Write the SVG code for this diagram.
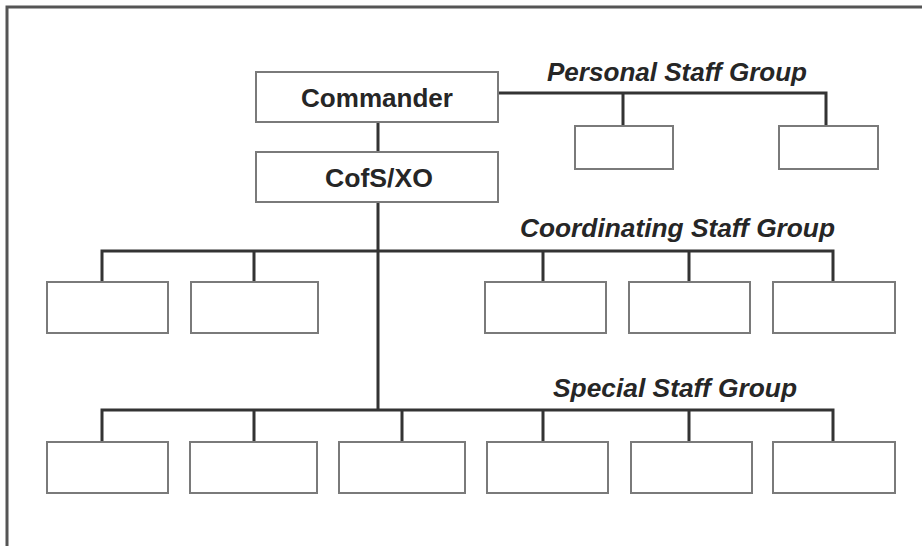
<svg xmlns="http://www.w3.org/2000/svg" width="922" height="546" viewBox="0 0 922 546">
<style>
.frame{fill:none;stroke:#555;stroke-width:3}
.box{fill:#fff;stroke:#7a7a7a;stroke-width:2}
.conn{fill:none;stroke:#333;stroke-width:3}
.lbl{font-family:"Liberation Sans",Arial,sans-serif;font-weight:bold;font-size:26px;fill:#262626;text-anchor:middle}
.grp{font-family:"Liberation Sans",Arial,sans-serif;font-weight:bold;font-style:italic;font-size:25px;fill:#262626}
</style>
<rect width="922" height="546" fill="#fff"/>
<rect class="frame" x="7" y="7" width="940" height="570"/>
<g id="connectors">
<path class="conn" d="M378 122V152M378 202V410"/>
<path class="conn" d="M498 93H826V126M623 93V126"/>
<path class="conn" d="M102 282V251H833V282M254 251V282M543 251V282M689 251V282"/>
<path class="conn" d="M102 442V410H833V442M254 410V442M402 410V442M543 410V442M689 410V442"/>
</g>
<g id="labels">
<text class="grp" x="547" y="81" textLength="260" lengthAdjust="spacingAndGlyphs">Personal Staff Group</text>
<text class="grp" x="520" y="237" textLength="315" lengthAdjust="spacingAndGlyphs">Coordinating Staff Group</text>
<text class="grp" x="553" y="397" textLength="244" lengthAdjust="spacingAndGlyphs">Special Staff Group</text>
</g>
<g id="commander"><rect class="box" x="256" y="72" width="242" height="50"/><text class="lbl" x="377" y="107" textLength="152" lengthAdjust="spacingAndGlyphs">Commander</text></g>
<g id="cofs-xo"><rect class="box" x="256" y="152" width="242" height="50"/><text class="lbl" x="379" y="187" textLength="108" lengthAdjust="spacingAndGlyphs">CofS/XO</text></g>
<g id="personal-1"><rect class="box" x="575" y="126" width="98" height="43"/></g>
<g id="personal-2"><rect class="box" x="779" y="126" width="99" height="43"/></g>
<g id="coord-1"><rect class="box" x="47" y="282" width="121" height="51"/></g>
<g id="coord-2"><rect class="box" x="191" y="282" width="127" height="51"/></g>
<g id="coord-3"><rect class="box" x="485" y="282" width="121" height="51"/></g>
<g id="coord-4"><rect class="box" x="629" y="282" width="121" height="51"/></g>
<g id="coord-5"><rect class="box" x="773" y="282" width="122" height="51"/></g>
<g id="special-1"><rect class="box" x="47" y="442" width="121" height="51"/></g>
<g id="special-2"><rect class="box" x="190" y="442" width="127" height="51"/></g>
<g id="special-3"><rect class="box" x="339" y="442" width="126" height="51"/></g>
<g id="special-4"><rect class="box" x="487" y="442" width="121" height="51"/></g>
<g id="special-5"><rect class="box" x="631" y="442" width="121" height="51"/></g>
<g id="special-6"><rect class="box" x="773" y="442" width="122" height="51"/></g>
</svg>
